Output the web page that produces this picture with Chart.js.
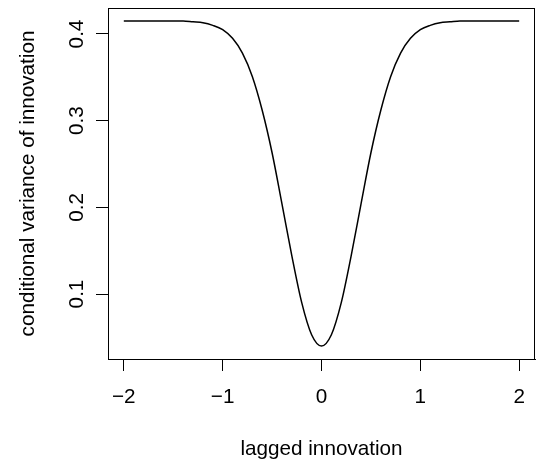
<!DOCTYPE html>
<html>
<head>
<meta charset="utf-8">
<script src="https://cdn.jsdelivr.net/npm/chart.js@4.4.1/dist/chart.umd.min.js"></script>
<style>
  html, body { margin: 0; padding: 0; background: #fff; }
  canvas { display: block; }
</style>
</head>
<body>
<canvas id="varianceChart" width="536" height="460"></canvas>
<script>
// lagged innovation (x) and conditional variance
const innovation = [
    -2.0, -1.9, -1.8, -1.7, -1.6, -1.5, -1.4, -1.3, -1.2, -1.1,
    -1.0, -0.9, -0.8, -0.7, -0.6, -0.5, -0.4, -0.3, -0.2, -0.1,
    0.0,
    0.1, 0.2, 0.3, 0.4, 0.5, 0.6, 0.7, 0.8, 0.9, 1.0,
    1.1, 1.2, 1.3, 1.4, 1.5, 1.6, 1.7, 1.8, 1.9, 2.0
];
const condVariance = [
    0.415, 0.415, 0.415, 0.415, 0.415, 0.415, 0.415, 0.414, 0.413, 0.410,
    0.405, 0.395, 0.378, 0.351, 0.312, 0.263, 0.204, 0.144, 0.090, 0.053,
    0.040,
    0.053, 0.090, 0.144, 0.204, 0.263, 0.312, 0.351, 0.378, 0.395, 0.405,
    0.410, 0.413, 0.414, 0.415, 0.415, 0.415, 0.415, 0.415, 0.415, 0.415
];
const xTicks = [-2, -1, 0, 1, 2];
const yTicks = [0.1, 0.2, 0.3, 0.4];

const FONT = '"Liberation Sans", Arial, Helvetica, sans-serif';
const FONT_SIZE = 20.7;

// box around the plot region + rotated y tick labels (R style)
const rStylePlugin = {
    id: 'rStyle',
    afterDraw(chart) {
        const ctx = chart.ctx;
        const area = chart.chartArea;
        ctx.save();
        ctx.strokeStyle = '#000';
        ctx.lineWidth = 1;
        ctx.strokeRect(area.left + 0.5, area.top + 0.5,
            area.right - area.left - 1, area.bottom - area.top);

        const yScale = chart.scales.y;
        ctx.fillStyle = '#000';
        ctx.font = FONT_SIZE + 'px ' + FONT;
        ctx.textAlign = 'center';
        ctx.textBaseline = 'alphabetic';
        yTicks.forEach(v => {
            ctx.save();
            ctx.translate(83, yScale.getPixelForValue(v));
            ctx.rotate(-Math.PI / 2);
            ctx.fillText(v.toFixed(1), 0, 0);
            ctx.restore();
        });
        ctx.restore();
    }
};

const ctx = document.getElementById('varianceChart');
new Chart(ctx, {
    type: 'line',
    data: {
        datasets: [{
            data: innovation.map((x, i) => ({ x: x, y: condVariance[i] })),
            borderColor: '#000',
            borderWidth: 1.5,
            pointRadius: 0,
            fill: false,
            cubicInterpolationMode: 'monotone'
        }]
    },
    options: {
        responsive: false,
        animation: false,
        layout: {
            padding: { top: 8, right: 1, left: 0, bottom: 0 }
        },
        plugins: {
            legend: { display: false },
            tooltip: { enabled: false }
        },
        scales: {
            x: {
                type: 'linear',
                min: -2.16,
                max: 2.16,
                afterBuildTicks: scale => {
                    scale.ticks = xTicks.map(v => ({ value: v }));
                },
                afterFit: scale => {
                    scale.height = 101;
                    scale.paddingLeft = 0;
                    scale.paddingRight = 0;
                },
                grid: {
                    drawOnChartArea: false,
                    drawTicks: true,
                    tickLength: 12,
                    color: '#000',
                    lineWidth: 1
                },
                border: { display: true, color: '#000' },
                ticks: {
                    color: '#000',
                    padding: 14,
                    maxRotation: 0,
                    font: { family: FONT, size: FONT_SIZE },
                    callback: v => String(v).replace('-', '\u2212')
                },
                title: {
                    display: true,
                    text: 'lagged innovation',
                    color: '#000',
                    font: { family: FONT, size: FONT_SIZE, lineHeight: 1 },
                    padding: { top: 0, bottom: 0 }
                }
            },
            y: {
                type: 'linear',
                min: 0.025,
                max: 0.430,
                afterBuildTicks: scale => {
                    scale.ticks = yTicks.map(v => ({ value: v }));
                },
                afterFit: scale => {
                    scale.width = 108;
                    scale.paddingTop = 0;
                    scale.paddingBottom = 0;
                },
                grid: {
                    drawOnChartArea: false,
                    drawTicks: true,
                    tickLength: 12,
                    color: '#000',
                    lineWidth: 1
                },
                border: { display: true, color: '#000' },
                ticks: { display: false },
                title: {
                    display: true,
                    text: 'conditional variance of innovation',
                    color: '#000',
                    font: { family: FONT, size: FONT_SIZE },
                    padding: { top: 16, bottom: 0 }
                }
            }
        }
    },
    plugins: [rStylePlugin]
});
</script>
</body>
</html>
